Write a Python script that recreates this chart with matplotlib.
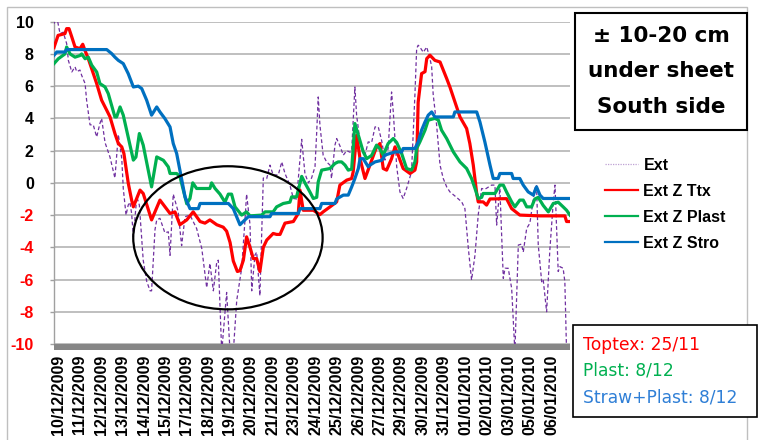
import matplotlib
matplotlib.use("Agg")
import matplotlib.pyplot as plt
from matplotlib.lines import Line2D
from matplotlib.patches import Rectangle, Ellipse

# ---------------- data (x = category index, y = temperature °C) ----------------
date_labels = ["10/12/2009", "11/12/2009", "12/12/2009", "13/12/2009", "14/12/2009",
               "15/12/2009", "17/12/2009", "18/12/2009", "19/12/2009", "20/12/2009",
               "21/12/2009", "23/12/2009", "24/12/2009", "25/12/2009", "26/12/2009",
               "27/12/2009", "29/12/2009", "30/12/2009", "31/12/2009", "01/01/2010",
               "02/01/2010", "03/01/2010", "05/01/2010", "06/01/2010"]

ext_x = [0, 0.13, 0.28, 0.43, 0.59, 0.67, 0.83, 0.98, 1.06, 1.21, 1.29, 1.45, 1.52, 1.68, 1.83,
         1.99, 2.14, 2.22, 2.38, 2.61, 2.84, 3.00, 3.16, 3.23, 3.36, 3.46, 3.54, 3.62, 3.70, 3.86,
         3.98, 4.16, 4.32, 4.48, 4.55, 4.71, 4.79, 4.94, 5.17, 5.33, 5.41, 5.56, 5.79, 5.95, 6.11,
         6.34, 6.65, 6.89, 6.96, 7.12, 7.27, 7.43, 7.59, 7.66, 7.82, 7.97, 8.05, 8.21, 8.36, 8.52,
         8.75, 8.90, 8.98, 9.14, 9.22, 9.37, 9.45, 9.60, 9.76, 9.92, 10.07, 10.22, 10.46, 10.62,
         10.77, 11.00, 11.16, 11.31, 11.55, 11.70, 11.86, 12.01, 12.17, 12.25, 12.32, 12.40, 12.55,
         12.71, 12.87, 12.94, 13.10, 13.18, 13.33, 13.49, 13.65, 13.80, 13.88, 14.03, 14.11, 14.27,
         14.50, 14.65, 14.81, 14.97, 15.12, 15.28, 15.43, 15.58, 15.74, 15.82, 15.98, 16.13, 16.28,
         16.44, 16.67, 16.75, 16.83, 16.91, 16.98, 17.06, 17.22, 17.38, 17.53, 17.61, 17.68, 17.84,
         18.00, 18.15, 18.31, 18.46, 18.77, 19.01, 19.16, 19.32, 19.47, 19.63, 19.78, 19.94, 20.09,
         20.40, 20.56, 20.64, 20.71, 20.79, 20.95, 21.03, 21.18, 21.34, 21.49, 21.65, 21.80, 21.88,
         22.04, 22.19, 22.42, 22.50, 22.58, 22.74, 22.81, 22.97, 23.12, 23.28, 23.36, 23.51, 23.59,
         23.74, 23.82, 23.90]
ext_y = [9.88, 10.3, 9.26, 9.35, 8.64, 7.6, 6.88, 7.2, 6.9, 7.0, 6.67, 6.16, 5.13, 3.6, 3.6,
         2.85, 3.68, 4.0, 2.5, 1.6, 0.3, 3.0, 1.5, -0.35, -2.0, -1.38, -1.2, -1.9, -3.35, -0.87,
         -1.38, -4.8, -6.1, -6.7, -6.7, -2.9, -2.3, -2.2, -3.1, -3.04, -4.5, -0.7, -1.8, -3.9, -2.1,
         -2.0, -2.83, -4.07, -4.8, -6.5, -5.0, -6.7, -4.9, -4.8, -10.5, -8.1, -6.8, -10.5, -10.5, -7.3,
         -5.3, -2.4, -0.7, -2.6, -6.7, -4.48, -4.3, -7.0, 0.3, 0.27, 1.1, 0.48, 0.5, 1.3,
         0.58, -0.14, -0.97, -1.0, 2.7, 0.58, 0.0, 0.3, 1.0, 3.16, 5.33, 3.58, 1.72,
         1.3, 1.1, 0.27, 2.34, 2.75, 2.3, 1.72, 2.0, 1.9, 2.0, 5.95, 4.2, 2.54,
         1.72, 2.54, 2.5, 3.47, 3.47, 2.6, 1.41, 2.13, 5.64, 4.4, 1.0, -0.56, -0.97,
         -0.35, 0.68, 3.06, 5.5, 8.33, 8.54, 8.43, 8.1, 8.43, 7.71, 7.2, 5.5, 3.6,
         1.1, 0.27, -0.25, -0.56, -0.9, -1.18, -1.6, -4.07, -6.03, -4.48, -2.0, -0.35, -0.4,
         -0.14, -0.14, -2.62, -1.5, -0.35, -5.93, -5.3, -5.3, -6.55, -10.5, -3.86, -3.8, -4.3,
         -2.83, -2.5, -0.35, -0.14, -3.86, -6.14, -6.0, -8.0, -4.17, -1.18, -0.14, -5.5, -5.2,
         -5.3, -6.14, -10.5]

ttx_x = [0, 0.19, 0.51, 0.59, 0.70, 0.83, 0.98, 1.21, 1.34, 1.45, 1.60, 1.99, 2.22, 2.46, 2.61,
         2.84, 3.00, 3.16, 3.26, 3.46, 3.62, 3.70, 4.01, 4.16, 4.55, 4.94, 5.41, 5.64, 5.87, 6.19,
         6.49, 6.81, 7.04, 7.27, 7.59, 7.89, 8.05, 8.21, 8.36, 8.55, 8.67, 8.83, 8.98, 9.14, 9.29,
         9.45, 9.60, 9.76, 9.92, 10.22, 10.38, 10.54, 10.77, 11.16, 11.39, 11.47, 11.62, 12.09,
         12.40, 12.55, 12.87, 13.18, 13.33, 13.65, 13.88, 13.95, 14.11, 14.27, 14.50, 14.73, 15.04,
         15.20, 15.35, 15.51, 15.74, 15.90, 16.05, 16.28, 16.60, 16.83, 16.91, 16.98, 17.14, 17.30,
         17.38, 17.53, 17.76, 18.00, 18.31, 18.46, 18.93, 19.24, 19.39, 19.55, 19.71, 19.78, 20.01,
         20.17, 20.33, 21.10, 21.34, 21.72, 22.66, 23.82, 23.90, 24.06]
ttx_y = [8.4, 9.15, 9.26, 9.57, 9.57, 9.05, 8.43, 8.33, 8.6, 8.2, 7.7, 6.16, 5.13, 4.5, 4.1,
         3.06, 2.44, 2.23, 1.82, 0.0, -1.07, -1.49, -0.45, -0.66, -2.3, -1.07, -1.9, -1.8, -2.6, -2.3,
         -1.8, -2.4, -2.5, -2.3, -2.6, -2.75, -3.0, -3.7, -4.85, -5.5, -5.45, -4.8, -3.35, -4.0, -4.7,
         -4.7, -5.5, -4.0, -3.55, -3.14, -3.2, -3.2, -2.5, -2.4, -1.9, -0.45, -1.7, -1.7,
         -1.97, -1.8, -1.49, -1.18, -0.14, 0.17, 0.27, 0.68, 2.96, 1.5, 0.27, 1.1, 2.23,
         2.44, 0.89, 0.79, 1.5, 2.23, 1.72, 0.89, 0.58, 0.79, 1.3, 5.0, 6.78, 6.9,
         7.71, 7.92, 7.6, 7.5, 6.47, 5.95, 4.09, 3.37, 2.44, 1.1, -0.66, -1.18, -1.18,
         -1.38, -1.0, -0.98, -1.6, -2.0, -2.05, -2.05, -2.4, -2.4]

plast_x = [0, 0.20, 0.51, 0.59, 0.75, 0.98, 1.21, 1.29, 1.45, 1.60, 1.76, 1.99, 2.14, 2.38, 2.53,
           2.84, 2.92, 3.08, 3.23, 3.70, 3.82, 3.98, 4.16, 4.55, 4.79, 5.10, 5.33, 5.41, 5.72, 5.87,
           6.19, 6.34, 6.47, 6.65, 7.27, 7.35, 7.51, 7.74, 7.97, 8.13, 8.28, 8.44, 8.75, 8.98, 9.14,
           9.68, 9.84, 10.22, 10.38, 10.69, 11.00, 11.08, 11.31, 11.55, 11.70, 11.93, 12.09, 12.25,
           12.32, 12.48, 12.87, 13.10, 13.25, 13.41, 13.57, 13.72, 13.88, 14.03, 14.19, 14.42, 14.58,
           14.81, 15.04, 15.20, 15.35, 15.58, 15.82, 15.98, 16.21, 16.44, 16.67, 16.83, 16.91, 17.06,
           17.30, 17.45, 17.76, 17.92, 18.07, 18.31, 18.62, 18.93, 19.24, 19.47, 19.63, 19.78, 19.94,
           20.01, 20.56, 20.79, 20.95, 21.10, 21.34, 21.49, 21.72, 21.88, 22.04, 22.27, 22.42, 22.58,
           22.81, 23.05, 23.28, 23.51, 23.74, 23.90, 24.06]
plast_y = [7.4, 7.7, 8.0, 8.43, 8.0, 7.8, 7.9, 8.0, 7.7, 7.8, 7.3, 6.88, 6.16, 5.95, 5.54,
           4.09, 4.09, 4.71, 4.2, 1.41, 1.6, 3.06, 2.34, -0.25, 1.61, 1.4, 0.99, 0.58, 0.58, 0.4,
           -1.3, -0.97, 0.0, -0.35, -0.35, 0.0, -0.35, -0.7, -1.2, -0.7, -0.7, -1.49, -2.0, -1.8, -2.05,
           -2.0, -1.8, -1.8, -1.49, -1.28, -1.2, -0.87, -0.87, 0.4, 0.0, -0.56, -0.97, -0.9,
           0.06, 0.79, 0.89, 1.2, 1.3, 1.3, 1.1, 0.79, 0.85, 3.68, 2.96, 1.92, 1.5,
           1.7, 2.34, 2.1, 1.72, 2.44, 2.75, 2.5, 1.82, 0.89, 0.79, 1.3, 2.13, 2.54,
           3.27, 3.89, 4.0, 3.9, 3.27, 2.75, 1.92, 1.3, 0.89, 0.27, -0.35, -0.97, -0.9,
           -0.66, -0.66, -0.14, -0.14, -0.56, -1.18, -1.49, -1.07, -1.07, -1.49, -1.49, -1.0, -0.9,
           -1.4, -1.8, -1.28, -1.2, -1.49, -1.7, -2.0]

stro_x = [0, 0.13, 0.51, 0.59, 2.46, 2.69, 2.84, 3.00, 3.23, 3.46, 3.70, 3.93, 4.09, 4.32, 4.55,
          4.79, 4.94, 5.17, 5.41, 5.56, 5.72, 5.87, 6.11, 6.34, 6.73, 6.81, 8.13, 8.36, 8.67, 8.90,
          9.06, 10.07, 10.15, 11.39, 11.47, 12.40, 12.48, 13.10, 13.18, 13.49, 13.72, 13.88, 14.03,
          14.19, 14.27, 14.42, 14.65, 14.73, 14.97, 15.28, 15.43, 15.66, 15.90, 16.21, 16.28, 16.83,
          16.98, 17.14, 17.30, 17.45, 17.61, 17.76, 18.62, 18.69, 19.71, 19.86, 20.09, 20.33, 20.48,
          20.71, 20.79, 21.34, 21.41, 21.72, 21.88, 22.11, 22.35, 22.42, 22.50, 22.66, 22.81, 24.06]
stro_y = [7.92, 8.12, 8.12, 8.27, 8.27, 8.02, 7.8, 7.6, 7.4, 6.78, 5.95, 6.0, 5.85, 5.13, 4.2,
          4.71, 4.4, 3.99, 3.47, 2.44, 1.82, 0.79, -0.87, -1.6, -1.6, -1.28, -1.28, -1.6, -2.6, -2.3,
          -2.1, -2.1, -1.9, -1.9, -1.6, -1.6, -1.28, -1.28, -1.0, -0.76, -0.76, -0.25, 0.27,
          0.89, 1.5, 1.5, 1.0, 1.1, 1.3, 1.4, 1.72, 1.82, 1.92, 1.92, 2.13, 2.13,
          2.54, 3.27, 3.78, 4.2, 4.4, 4.09, 4.09, 4.4, 4.4, 3.78, 2.54, 1.1, 0.27,
          0.27, 0.58, 0.58, 0.27, 0.27, -0.14, -0.56, -0.76, -0.5, -0.25, -0.76, -0.97, -0.97]

series_names = ["Ext", "Ext Z Ttx", "Ext Z Plast", "Ext Z Stro"]
y_ticks = list(range(-10, 11, 2))

# ---------------- styling ----------------
W, H = 761, 440
FONT = "Liberation Sans"
C_EXT, C_TTX, C_PLAST, C_STRO = "#7030A0", "#FF0000", "#00B050", "#0070C0"

fig = plt.figure(figsize=(W / 100, H / 100), dpi=100)
fig.patch.set_facecolor("white")

# outer chart border
fig.patches.append(Rectangle((7 / W, -0.02), 740 / W, 1 - 7 / H + 0.02, transform=fig.transFigure,
                             fill=False, edgecolor="#BFBFBF", lw=1.0, zorder=0))

ax_h = (344 - 21.7)
ax = fig.add_axes([54 / W, 1 - 344 / H, (570 - 54) / W, ax_h / H])
ax.set_facecolor("white")

ax.plot(ext_x, ext_y, color=C_EXT, lw=0.9, linestyle=(0, (3, 2)), zorder=3)
ax.plot(ttx_x, ttx_y, color=C_TTX, lw=2.3, zorder=4, solid_joinstyle="round")
ax.plot(plast_x, plast_y, color=C_PLAST, lw=2.3, zorder=5, solid_joinstyle="round")
ax.plot(stro_x, stro_y, color=C_STRO, lw=2.3, zorder=6, solid_joinstyle="round")

ax.set_xlim(0, 24.06)
ax.set_ylim(-10, 10)

ax.set_yticks(y_ticks)
ax.set_yticklabels([str(v) for v in y_ticks])
for lbl, v in zip(ax.get_yticklabels(), y_ticks):
    lbl.set_color("black" if v >= 0 else "#FF0000")
    lbl.set_fontweight("bold")
    lbl.set_fontfamily(FONT)
    lbl.set_fontsize(11.5)
ax.tick_params(axis="y", length=3, width=1, color="#A0A0A0", pad=11.5, direction="out")

ax.set_xticks([k + 0.2 for k in range(len(date_labels))])
ax.set_xticklabels(date_labels, rotation=90, fontweight="bold", fontfamily=FONT, fontsize=11.5)
ax.tick_params(axis="x", length=0, pad=7.5)

ax.yaxis.grid(True, color="#B4B4B4", lw=1.2, zorder=0)
ax.xaxis.grid(False)
ax.set_axisbelow(True)
for s in ["top", "right", "bottom"]:
    ax.spines[s].set_visible(False)
ax.spines["left"].set_color("#A0A0A0")
ax.spines["left"].set_linewidth(1.0)

# thick grey floor bar at the bottom of the plot
ax.add_patch(Rectangle((0, 0), 1, -5.5 / ax_h, transform=ax.transAxes,
                       facecolor="#868686", edgecolor="none", clip_on=False, zorder=7))

# ellipse highlight
ax.add_patch(Ellipse((8.11, -3.41), 8.83, 8.88, fill=False, edgecolor="black", lw=1.6, zorder=8))

# legend
handles = [Line2D([], [], color=C_EXT, lw=0.9, linestyle=(0, (1, 1)), alpha=0.45),
           Line2D([], [], color=C_TTX, lw=1.6),
           Line2D([], [], color=C_PLAST, lw=1.6),
           Line2D([], [], color=C_STRO, lw=1.6)]
fig.legend(handles, series_names, loc="upper left", bbox_to_anchor=(605 / W, 1 - 158 / H),
           frameon=False, prop={"family": FONT, "weight": "bold", "size": 11.5},
           handlelength=2.06, handletextpad=0.35, labelspacing=0.68, borderpad=0, borderaxespad=0)

# title box
fig.patches.append(Rectangle((575 / W, 1 - 130 / H), 172 / W, 117 / H, transform=fig.transFigure,
                             facecolor="white", edgecolor="black", lw=1.5, zorder=10))
for txt, py in [("± 10-20 cm", 36), ("under sheet", 71), ("South side", 107)]:
    fig.text(661 / W, 1 - py / H, txt, ha="center", va="center", fontsize=15.5,
             fontweight="bold", family="DejaVu Sans", zorder=11)

# dates box
fig.patches.append(Rectangle((573 / W, 1 - 417 / H), 184 / W, 92 / H, transform=fig.transFigure,
                             facecolor="white", edgecolor="black", lw=1.2, zorder=10))
for txt, py, col in [("Toptex: 25/11", 345, "#FF0000"), ("Plast: 8/12", 370, "#00B050"),
                     ("Straw+Plast: 8/12", 397, "#2F7FD6")]:
    fig.text(583 / W, 1 - py / H, txt, ha="left", va="center", fontsize=12.3,
             family="DejaVu Sans", color=col, zorder=11)

fig.savefig("out.png", dpi=100, facecolor="white")
